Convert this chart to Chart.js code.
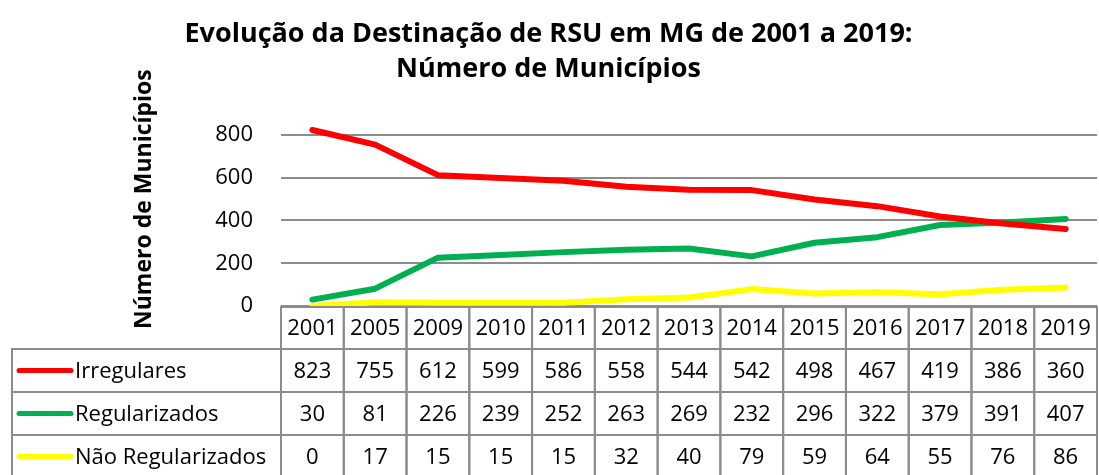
<!DOCTYPE html>
<html>
<head>
<meta charset="utf-8">
<title>Destinação de RSU em MG</title>
<script src="https://cdn.jsdelivr.net/npm/chart.js@4/dist/chart.umd.min.js"></script>
<style>
  html, body { margin: 0; padding: 0; background: #fff; }
  #wrap { width: 1099px; height: 475px; position: relative; }
</style>
</head>
<body>
<div id="wrap"><canvas id="rsuChart"></canvas></div>
<script>
const anos = ["2001","2005","2009","2010","2011","2012","2013","2014","2015","2016","2017","2018","2019"];
const irregulares = [823, 755, 612, 599, 586, 558, 544, 542, 498, 467, 419, 386, 360];
const regularizados = [30, 81, 226, 239, 252, 263, 269, 232, 296, 322, 379, 391, 407];
const naoRegularizados = [0, 17, 15, 15, 15, 32, 40, 79, 59, 64, 55, 76, 86];
const yTicks = [0, 200, 400, 600, 800];

const FONT = "'Open Sans', sans-serif";
const GRID = "#8c8c8c";

// tabela de dados embaixo do gráfico, alinhada com a escala x
const dataTable = {
  id: "dataTable",
  afterDraw(chart) {
    const ctx = chart.ctx;
    const xs = chart.scales.x;
    const area = chart.chartArea;
    const w = xs.getPixelForValue(1) - xs.getPixelForValue(0);
    const top = area.bottom + 1;
    const headH = 42, rowH = 43;
    const tableLeft = 12;
    const rows = chart.data.datasets;

    ctx.save();
    ctx.strokeStyle = GRID;
    ctx.lineWidth = 2;
    ctx.fillStyle = "#000";
    ctx.font = "22px " + FONT;
    ctx.textAlign = "center";
    ctx.textBaseline = "middle";

    // cabeçalho com os anos
    anos.forEach((a, i) => {
      const cx = xs.getPixelForValue(i);
      ctx.strokeRect(cx - w / 2, top, w, headH);
      ctx.fillText(a, cx, top + headH / 2 + 1);
    });

    rows.forEach((ds, r) => {
      const y0 = top + headH + r * rowH;
      const cy = y0 + rowH / 2 + 1;
      ctx.strokeStyle = GRID;
      ctx.strokeRect(tableLeft, y0, area.left - tableLeft, rowH);
      // amostra da linha da legenda
      ctx.beginPath();
      ctx.lineCap = "round";
      ctx.lineWidth = 5;
      ctx.strokeStyle = ds.borderColor;
      ctx.moveTo(19, cy - 1);
      ctx.lineTo(71, cy - 1);
      ctx.stroke();
      ctx.lineWidth = 2;
      ctx.lineCap = "butt";
      ctx.strokeStyle = GRID;
      ctx.textAlign = "left";
      ctx.fillText(ds.label, 75, cy);
      ctx.textAlign = "center";
      ds.data.forEach((v, i) => {
        const cx = xs.getPixelForValue(i);
        ctx.strokeRect(cx - w / 2, y0, w, rowH);
        ctx.fillText(String(v), cx, cy);
      });
    });
    ctx.restore();
  }
};

new Chart(document.getElementById("rsuChart"), {
  type: "line",
  data: {
    labels: anos,
    datasets: [
      { label: "Irregulares", data: irregulares, borderColor: "#ff0000" },
      { label: "Regularizados", data: regularizados, borderColor: "#00b050" },
      { label: "Não Regularizados", data: naoRegularizados, borderColor: "#ffff00" }
    ]
  },
  options: {
    responsive: true,
    maintainAspectRatio: false,
    animation: false,
    layout: { padding: { left: 0, right: 2, top: 0, bottom: 169 } },
    elements: {
      line: { borderWidth: 6, tension: 0, borderCapStyle: "round", borderJoinStyle: "round" },
      point: { radius: 0, hoverRadius: 0 }
    },
    plugins: {
      legend: { display: false },
      tooltip: { enabled: false },
      title: {
        display: true,
        text: ["Evolução da Destinação de RSU em MG de 2001 a 2019:", "Número de Municípios"],
        color: "#000",
        font: { family: FONT, size: 27, weight: "bold", lineHeight: 1.3 },
        padding: { top: 17, bottom: 5 }
      }
    },
    scales: {
      x: { display: false, offset: true },
      y: {
        min: 0,
        max: 1000,
        afterBuildTicks(scale) {
          scale.ticks = yTicks.map(v => ({ value: v }));
        },
        afterFit(scale) { scale.width = 281; },
        grid: { color: GRID, lineWidth: 2, drawTicks: false },
        border: { display: false },
        ticks: { color: "#000", padding: 28, font: { family: FONT, size: 22 } },
        title: {
          display: true,
          text: "Número de Municípios",
          color: "#000",
          font: { family: FONT, size: 23, weight: "bold" },
          padding: { top: 131, bottom: 0 }
        }
      }
    }
  },
  plugins: [dataTable]
});
</script>
</body>
</html>
